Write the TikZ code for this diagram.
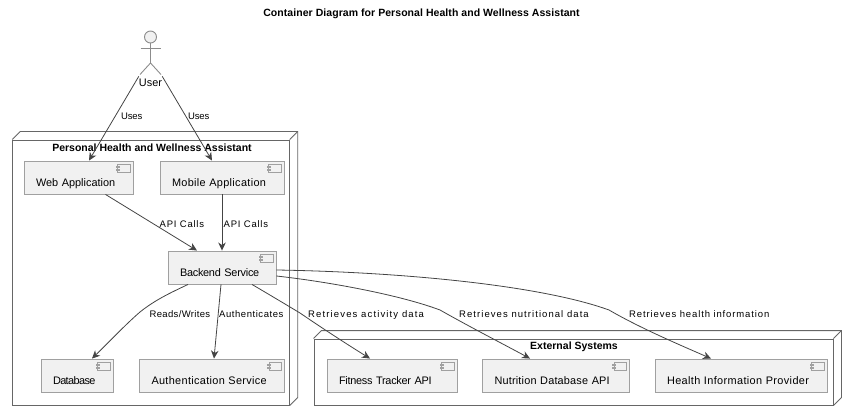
\documentclass[tikz,border=0pt]{standalone}
\usepackage{fontspec}
\setmainfont{Liberation Sans}
\usetikzlibrary{arrows.meta,positioning}
\definecolor{BoxFill}{HTML}{F1F1F1}
\definecolor{BoxLine}{HTML}{A0A0A0}
\definecolor{FrameLine}{HTML}{666666}
\definecolor{ArrowLine}{HTML}{444444}
\newcommand{\compicon}[1]{%
	\begin{scope}[shift={(#1.north east)},draw=BoxLine,fill=BoxFill,line width=0.8]
		\filldraw (-16,4) rectangle (-3.5,11.5);
		\filldraw (-17.5,5.5) rectangle (-14.5,7);
		\filldraw (-17.5,8.5) rectangle (-14.5,10);
	\end{scope}}
\newcommand{\frameback}[1]{%
	\draw[framebox,fill=none] (#1.north west) -- ++(8,-8) -- ([shift={(8,-8)}]#1.north east) -- ([shift={(8,-8)}]#1.south east) -- (#1.south east);
	\draw[framebox,fill=none] (#1.north east) -- ++(8,-8);}
\begin{document}
\begin{tikzpicture}[x=1pt,y=-1pt,
		framebox/.style={draw=FrameLine,line width=0.9,inner sep=0pt},
		frametitle/.style={font=\fontsize{10.5}{12}\selectfont\bfseries\addfontfeature{LetterSpace=#1},inner sep=0pt,text height=7.6,text depth=0},
		frametitle/.default=0,
		compbox/.style={draw=BoxLine,fill=BoxFill,line width=0.9,inner xsep=12,inner ysep=0,
			text height=25,text depth=8,align=left,font=\fontsize{10.9}{12}\selectfont\addfontfeature{LetterSpace=#1}},
		compbox/.default=0,
		rel/.style={draw=ArrowLine,line width=0.8,-{Stealth[length=8,width=7.5,inset=2.5]}},
		rellabel/.style={anchor=west,inner sep=0pt,text height=7.2,text depth=0,font=\fontsize{9.5}{12}\selectfont\addfontfeature{LetterSpace=#1}},
		actorline/.style={draw=gray!90,line width=0.9}
	]
	\useasboundingbox (0,0) rectangle (850,414);
	\node[frametitle=0.6] (title) at (421.5,12.7) {Container Diagram for Personal Health and Wellness Assistant};

	% actor
	\node[circle,draw=gray!90,fill=BoxFill,line width=0.9,minimum size=12,inner sep=0pt] (head) at (150.5,37) {};
	\coordinate (hip) at (150.5,63);
	\draw[actorline] (head) -- (hip);
	\draw[actorline] (140.5,48.7) -- (160.5,48.7);
	\draw[actorline] (140,74.5) -- (hip) -- (161,74.5);
	\node[inner sep=0pt,minimum width=22,minimum height=12,font=\fontsize{10.9}{12}\selectfont] (user) at (150.5,82.5) {User};

	% frames
	\node[framebox,minimum width=276.5,minimum height=265] (phwa) at (151,272.5) {};
	\frameback{phwa}
	\node[framebox,minimum width=519,minimum height=66] (external) at (573.5,372) {};
	\frameback{external}
	\node[frametitle] (phwaTitle) at (152,148) {Personal Health and Wellness Assistant};
	\node[frametitle] (externalTitle) at (574,346) {External Systems};

	% components
	\node[compbox,text width=85] (web) at (78.5,177.5) {Web Application};
	\node[compbox=3,text width=100] (mobile) at (222,177.5) {Mobile Application};
	\node[compbox=-2.4,text width=84] (backend) at (222,267.5) {Backend Service};
	\node[compbox=-5.5,text width=48] (db) at (77,375.5) {Database};
	\node[compbox=3,text width=121] (auth) at (212,375.5) {Authentication Service};
	\node[compbox=-2.5,text width=106] (fitness) at (392,375.5) {Fitness Tracker API};
	\node[compbox=1.7,text width=123] (nutrition) at (556,375.5) {Nutrition Database API};
	\node[compbox=3.4,text width=148] (health) at (741,375.5) {Health Information Provider};
	\foreach \n in {web,mobile,backend,db,auth,fitness,nutrition,health}{
		\compicon{\n}
	}

	% relations
	\draw (user.north west) edge[rel] ([xshift=10.5]web.north);
	\draw (user.north east) edge[rel] ([xshift=-10]mobile.north);
	\draw ([xshift=27]web.south) edge[rel] ([xshift=-25]backend.north);
	\draw (mobile.south) edge[rel] (backend.north);
	\draw[rel] ([xshift=-34]backend.south) .. controls (170,293) and (155,300) .. (140,312) .. controls (125,325) and (108,343) .. ([xshift=15]db.north);
	\draw ([xshift=-1]backend.south) edge[rel] ([xshift=2]auth.north);
	\draw[rel] ([xshift=30]backend.south) .. controls (270,295) and (285,304) .. (300,313) .. controls (322,328) and (345,343) .. ([xshift=-22]fitness.north);
	\draw[rel] ([yshift=-8.5]backend.east) .. controls (330,282) and (400,295) .. (440,310) .. controls (470,327) and (505,345) .. ([xshift=-26]nutrition.north);
	\draw[rel] ([yshift=-2.5]backend.east) .. controls (400,272) and (540,285) .. (609,310) .. controls (640,328) and (680,345) .. ([xshift=-30]health.north);

	% relation labels
	\node[rellabel=-2] (usesA) at (121,116) {Uses};
	\node[rellabel=-2] (usesB) at (188,116) {Uses};
	\node[rellabel=8] (apiA) at (159.5,223.5) {API Calls};
	\node[rellabel=8] (apiB) at (223.5,223.5) {API Calls};
	\node[rellabel=3.5] (reads) at (149.5,313.5) {Reads/Writes};
	\node[rellabel=5.8] (authLabel) at (219,313.5) {Authenticates};
	\node[rellabel=12] (retrA) at (308,313.5) {Retrieves activity data};
	\node[rellabel=11.2] (retrB) at (459,313.5) {Retrieves nutritional data};
	\node[rellabel=9.2] (retrC) at (629,313.5) {Retrieves health information};
\end{tikzpicture}
\end{document}
